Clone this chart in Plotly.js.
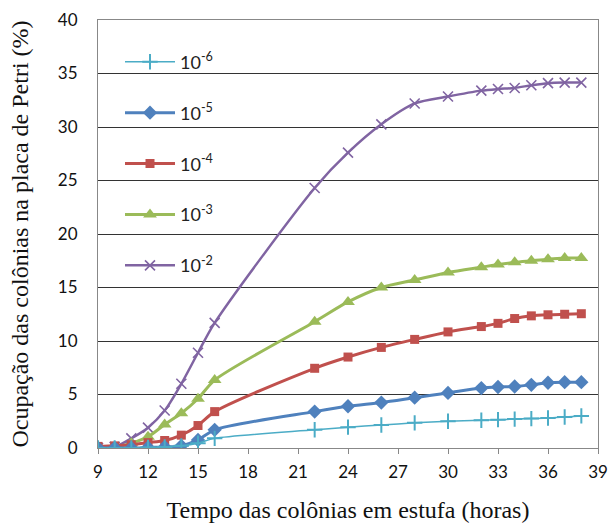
<!DOCTYPE html>
<html>
<head>
<meta charset="utf-8">
<script src="https://cdn.plot.ly/plotly-3.0.1.min.js"></script>
<style>html,body{margin:0;padding:0;background:#fff;}#chart{width:611px;height:524px;}</style>
</head>
<body>
<div id="chart"></div>
<script>
const hours = [9, 10, 11, 12, 13, 14, 15, 16, 22, 24, 26, 28, 30, 32, 33, 34, 35, 36, 37, 38];
const s1e6 = [0, 0, 0, 0.05, 0.1, 0.2, 0.45, 0.9, 1.7, 1.95, 2.15, 2.35, 2.5, 2.6, 2.65, 2.7, 2.75, 2.8, 2.9, 3.0];
const s1e5 = [0, 0, 0, 0.05, 0.1, 0.2, 0.75, 1.7, 3.4, 3.9, 4.25, 4.7, 5.15, 5.6, 5.7, 5.75, 5.9, 6.1, 6.15, 6.15];
const s1e4 = [0.15, 0.2, 0.3, 0.5, 0.7, 1.2, 2.1, 3.4, 7.45, 8.5, 9.4, 10.15, 10.85, 11.35, 11.65, 12.1, 12.35, 12.45, 12.5, 12.55];
const s1e3 = [0, 0.05, 0.45, 1.05, 2.2, 3.25, 4.6, 6.35, 11.8, 13.65, 15.0, 15.7, 16.4, 16.9, 17.15, 17.35, 17.5, 17.65, 17.75, 17.75];
const s1e2 = [0, 0.1, 0.9, 1.9, 3.5, 6.0, 8.9, 11.7, 24.3, 27.6, 30.25, 32.2, 32.85, 33.4, 33.55, 33.65, 33.9, 34.1, 34.15, 34.15];
const seriesNames = ['10<sup>-2</sup>', '10<sup>-3</sup>', '10<sup>-4</sup>', '10<sup>-5</sup>', '10<sup>-6</sup>'];
const xTicks = [9, 12, 15, 18, 21, 24, 27, 30, 33, 36, 39];
const yTicks = [0, 5, 10, 15, 20, 25, 30, 35, 40];

const styles = [
  {color: '#8064A2', width: 2.5, symbol: 'x-thin-open', size: 10, mline: 1.6},
  {color: '#9BBB59', width: 3, symbol: 'triangle-up', size: 12, mline: 0},
  {color: '#C0504D', width: 3, symbol: 'square', size: 9, mline: 0},
  {color: '#4F81BD', width: 3, symbol: 'diamond', size: 11, mline: 0},
  {color: '#4BACC6', width: 1.5, symbol: 'cross-thin-open', size: 11, mline: 2}
];
const data = [s1e2, s1e3, s1e4, s1e5, s1e6];
const traces = data.map((ys, i) => ({
  x: hours, y: ys, type: 'scatter', mode: 'lines+markers',
  name: seriesNames[i], legendgroup: 'g' + i, legendrank: 5 - i,
  line: {color: styles[i].color, width: styles[i].width, shape: 'spline', smoothing: 0.8},
  marker: {symbol: styles[i].symbol, size: styles[i].size, color: styles[i].color,
           line: {color: styles[i].color, width: styles[i].mline}}
}));

const layout = {
  width: 611, height: 524,
  margin: {l: 98, r: 13, t: 20, b: 76},
  paper_bgcolor: '#fff', plot_bgcolor: '#fff',
  showlegend: true,
  legend: {x: 0.044, y: 0.945, xanchor: 'left', yanchor: 'top', traceorder: 'grouped',
           tracegroupgap: 24.5, itemwidth: 50, bgcolor: 'rgba(0,0,0,0)',
           font: {family: 'Lato, sans-serif', size: 18, color: '#222'}},
  xaxis: {range: [9, 39], tickvals: xTicks, ticktext: xTicks.map(String),
          showgrid: false, zeroline: false, showline: true, linecolor: '#888', linewidth: 1,
          mirror: true, ticks: 'outside', ticklen: 5, tickcolor: '#888', ticklabelstandoff: 4,
          tickfont: {family: 'Lato, sans-serif', size: 17, color: '#111'},
          title: {text: 'Tempo das colônias em estufa (horas)', standoff: 19,
                  font: {family: '"Liberation Serif", "Times New Roman", serif', size: 24, color: '#111'}}},
  yaxis: {range: [0, 40], tickvals: yTicks, ticktext: yTicks.map(String),
          showgrid: true, gridcolor: '#333', gridwidth: 1, zeroline: false,
          showline: true, linecolor: '#888', linewidth: 1, mirror: true, ticks: '', ticklabelstandoff: 16,
          tickfont: {family: 'Lato, sans-serif', size: 17, color: '#111'},
          title: {text: 'Ocupação das colônias na placa de Petri (%)', standoff: 22,
                  font: {family: '"Liberation Serif", "Times New Roman", serif', size: 24, color: '#111'}}}
};
Plotly.newPlot('chart', traces, layout, {displayModeBar: false, staticPlot: true});
</script>
</body>
</html>
